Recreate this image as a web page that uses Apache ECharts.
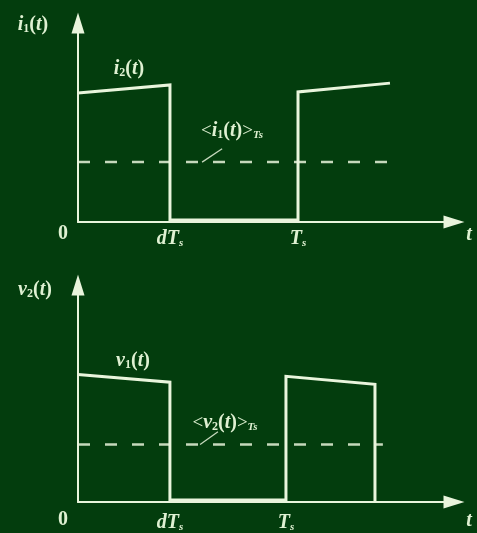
<!DOCTYPE html>
<html>
<head>
<meta charset="utf-8">
<script src="https://cdn.jsdelivr.net/npm/echarts@6/dist/echarts.min.js"></script>
<style>
  html, body { margin: 0; padding: 0; background: #033d0d; }
  #chart { width: 477px; height: 533px; }
</style>
</head>
<body>
<div id="chart"></div>
<script>
// Upper plot: switched current i2(t) and its average <i1(t)>Ts (time in units of Ts)
const dutyTop = 0.418;
const tickValsTop = [dutyTop, 1];
const i2Wave = [[0, 6.16], [dutyTop, 6.54], [dutyTop, 0.1], [1, 0.1], [1, 6.21], [1.418, 6.63]];
const i1Avg = 2.86;
const i1AvgSpan = [0, 1.405];
const i1Leader = [[0.564, 2.86], [0.655, 3.5]];

// Lower plot: switched voltage v1(t) and its average <v2(t)>Ts
const dutyBot = 0.442;
const tickValsBot = [dutyBot, 1];
const v1Wave = [[0, 6.14], [dutyBot, 5.77], [dutyBot, 0.1], [1, 0.1], [1, 6.05], [1.428, 5.67], [1.428, 0]];
const v2Avg = 2.77;
const v2AvgSpan = [0, 1.466];
const v2Leader = [[0.587, 2.77], [0.673, 3.38]];

const INK = '#e9f5dc';
const TXT = '#dff1d2';
const SERIF = '"Liberation Serif", "DejaVu Serif", serif';

const rich = {
  v: { fontFamily: SERIF, fontStyle: 'italic', fontWeight: 'bold', fontSize: 20, color: TXT, fill: TXT },
  p: { fontFamily: SERIF, fontWeight: 'bold', fontSize: 20, color: TXT, fill: TXT },
  s: { fontFamily: SERIF, fontWeight: 'bold', fontSize: 12, color: TXT, fill: TXT, padding: [8, 0, 0, 0] },
  si: { fontFamily: SERIF, fontStyle: 'italic', fontWeight: 'bold', fontSize: 11, color: TXT, fill: TXT, padding: [8, 0, 0, 0] },
  b: { fontFamily: SERIF, fontSize: 19, color: TXT, fill: TXT }
};

function tickFormatter(vals) {
  return function (value) {
    const k = vals.findIndex(v => Math.abs(v - value) < 1e-6);
    if (k < 0) return '';
    return k === 0 ? '{v|dT}{si|s}' : '{v|T}{si|s}';
  };
}

function xAxisFor(gridIndex, max, ticks, margin) {
  return {
    type: 'value', gridIndex, min: 0, max,
    splitLine: { show: false }, axisTick: { show: false },
    axisLine: { show: true, onZero: false, symbol: ['none', 'triangle'], symbolSize: [13, 21],
      lineStyle: { color: INK, width: 2 } },
    axisLabel: { show: true, customValues: ticks, margin, formatter: tickFormatter(ticks), rich }
  };
}
function yAxisFor(gridIndex, max) {
  return {
    type: 'value', gridIndex, min: 0, max,
    splitLine: { show: false }, axisTick: { show: false }, axisLabel: { show: false },
    axisLine: { show: true, onZero: false, symbol: ['none', 'triangle'], symbolSize: [13, 21],
      lineStyle: { color: INK, width: 2 } }
  };
}

function wave(idx, data) {
  return { type: 'line', xAxisIndex: idx, yAxisIndex: idx, data, showSymbol: false, symbol: 'none',
    lineStyle: { color: INK, width: 3, join: 'miter' }, silent: true };
}
function avgLine(idx, span, level) {
  return { type: 'line', xAxisIndex: idx, yAxisIndex: idx, data: span.map(x => [x, level]),
    showSymbol: false, symbol: 'none', silent: true,
    lineStyle: { color: INK, width: 2.5, type: [12, 15], opacity: 0.85 } };
}
function leader(idx, data) {
  return { type: 'line', xAxisIndex: idx, yAxisIndex: idx, data, showSymbol: false, symbol: 'none',
    silent: true, lineStyle: { color: INK, width: 1.3, opacity: 0.85 } };
}

function label(x, y, text) {
  return { type: 'text', x, y, silent: true,
    style: { text, rich, align: 'center', verticalAlign: 'middle', fill: TXT } };
}

const chart = echarts.init(document.getElementById('chart'), null, { renderer: 'canvas' });
chart.setOption({
  backgroundColor: '#033d0d',
  animation: false,
  grid: [
    { left: 78, top: 23, width: 376, height: 199 },
    { left: 78, top: 285, width: 376, height: 223 }
  ],
  xAxis: [xAxisFor(0, 1.709, tickValsTop, 7), xAxisFor(1, 1.808, tickValsBot, 11)],
  yAxis: [yAxisFor(0, 9.5), yAxisFor(1, 10.45)],
  series: [
    avgLine(0, i1AvgSpan, i1Avg), leader(0, i1Leader), wave(0, i2Wave),
    avgLine(1, v2AvgSpan, v2Avg), leader(1, v2Leader), wave(1, v1Wave)
  ],
  graphic: [
    label(33, 25, '{v|i}{s|1}{p|(}{v|t}{p|)}'),
    label(129, 69, '{v|i}{s|2}{p|(}{v|t}{p|)}'),
    label(232, 131, '{b|<}{v|i}{s|1}{p|(}{v|t}{p|)}{b|>}{si|Ts}'),
    label(63, 234, '{p|0}'),
    label(469, 235, '{v|t}'),
    label(35, 290, '{v|v}{s|2}{p|(}{v|t}{p|)}'),
    label(133, 361, '{v|v}{s|1}{p|(}{v|t}{p|)}'),
    label(225, 423, '{b|<}{v|v}{s|2}{p|(}{v|t}{p|)}{b|>}{si|Ts}'),
    label(63, 520, '{p|0}'),
    label(469, 521, '{v|t}')
  ]
});
</script>
</body>
</html>
